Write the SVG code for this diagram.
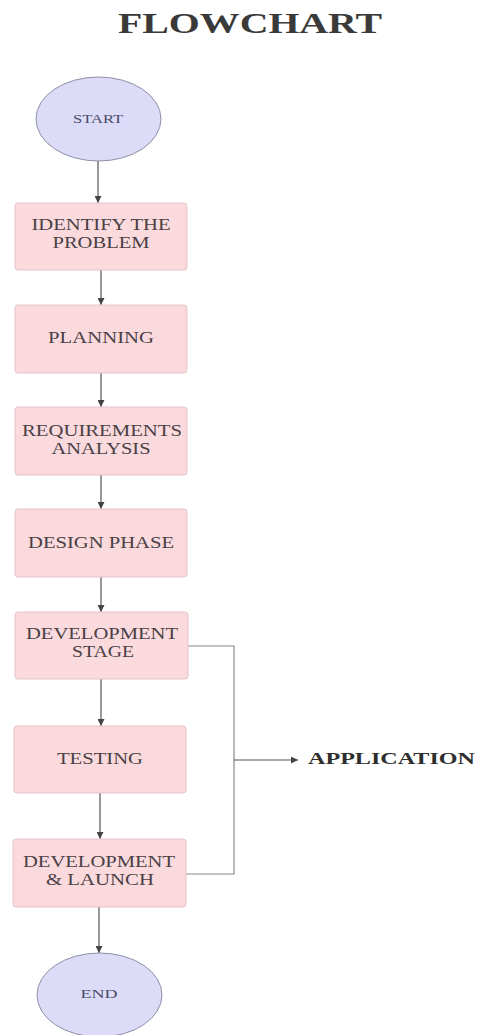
<svg xmlns="http://www.w3.org/2000/svg" width="478" height="1035" viewBox="0 0 478 1035">
<style>
.box{fill:#fadadd;stroke:#e6c3c8;stroke-width:1}
.oval{fill:#dcdcf8;stroke:#8e8ea6;stroke-width:1}
.t{font-family:"Liberation Serif","Times New Roman",serif;font-size:16px;fill:#4a4045;text-anchor:middle}
.ot{font-family:"Liberation Serif","Times New Roman",serif;font-size:13px;fill:#4a4a66;text-anchor:middle}
.title{font-family:"Liberation Serif","Times New Roman",serif;font-size:30px;font-weight:bold;fill:#3a3a3a;text-anchor:middle}
.app{font-family:"Liberation Serif","Times New Roman",serif;font-size:17px;font-weight:bold;fill:#2e2e2e}
.c{stroke:#555;stroke-width:1.2;fill:none}
.c2{stroke:#8a8a8a;stroke-width:1.2;fill:none}
</style>
<defs>
<marker id="ah" viewBox="0 0 10 10" refX="10" refY="5" markerWidth="8" markerHeight="7" markerUnits="userSpaceOnUse" orient="auto">
<path d="M0,0 L10,5 L0,10 z" fill="#444"/>
</marker>
</defs>
<rect width="478" height="1035" fill="#ffffff"/>
<text class="title" x="250" y="33" textLength="264" lengthAdjust="spacingAndGlyphs">FLOWCHART</text>

<g id="connectors">
<line class="c" x1="98" y1="161" x2="98" y2="203" marker-end="url(#ah)"/>
<line class="c" x1="101" y1="270" x2="101" y2="305" marker-end="url(#ah)"/>
<line class="c" x1="101" y1="373" x2="101" y2="407" marker-end="url(#ah)"/>
<line class="c" x1="101" y1="475" x2="101" y2="509" marker-end="url(#ah)"/>
<line class="c" x1="101" y1="577" x2="101" y2="612" marker-end="url(#ah)"/>
<line class="c" x1="101" y1="679" x2="101" y2="726" marker-end="url(#ah)"/>
<line class="c" x1="100" y1="793" x2="100" y2="839" marker-end="url(#ah)"/>
<line class="c" x1="99" y1="907" x2="99" y2="953" marker-end="url(#ah)"/>
<polyline class="c2" points="187,646 234,646 234,874 186,874"/>
<line class="c" x1="234" y1="760" x2="298" y2="760" marker-end="url(#ah)"/>
</g>

<g id="start">
<ellipse class="oval" cx="98.5" cy="119" rx="62.5" ry="42"/>
<text class="ot" x="98" y="123" textLength="50" lengthAdjust="spacingAndGlyphs">START</text>
</g>
<g id="identify">
<rect class="box" x="15" y="203" width="172" height="67" rx="3"/>
<text class="t" x="101" y="230" textLength="139" lengthAdjust="spacingAndGlyphs">IDENTIFY THE</text>
<text class="t" x="101" y="248" textLength="97" lengthAdjust="spacingAndGlyphs">PROBLEM</text>
</g>
<g id="planning">
<rect class="box" x="15" y="305" width="172" height="68" rx="3"/>
<text class="t" x="101" y="343" textLength="106" lengthAdjust="spacingAndGlyphs">PLANNING</text>
</g>
<g id="requirements">
<rect class="box" x="15" y="407" width="172" height="68" rx="3"/>
<text class="t" x="102" y="436" textLength="160" lengthAdjust="spacingAndGlyphs">REQUIREMENTS</text>
<text class="t" x="101" y="454" textLength="99" lengthAdjust="spacingAndGlyphs">ANALYSIS</text>
</g>
<g id="design">
<rect class="box" x="15" y="509" width="172" height="68" rx="3"/>
<text class="t" x="101" y="548" textLength="146" lengthAdjust="spacingAndGlyphs">DESIGN PHASE</text>
</g>
<g id="devstage">
<rect class="box" x="15" y="612" width="173" height="67" rx="3"/>
<text class="t" x="102" y="639" textLength="152" lengthAdjust="spacingAndGlyphs">DEVELOPMENT</text>
<text class="t" x="103" y="657" textLength="62" lengthAdjust="spacingAndGlyphs">STAGE</text>
</g>
<g id="testing">
<rect class="box" x="14" y="726" width="172" height="67" rx="3"/>
<text class="t" x="100" y="764" textLength="86" lengthAdjust="spacingAndGlyphs">TESTING</text>
</g>
<g id="launch">
<rect class="box" x="13" y="839" width="173" height="68" rx="3"/>
<text class="t" x="99" y="867" textLength="152" lengthAdjust="spacingAndGlyphs">DEVELOPMENT</text>
<text class="t" x="100" y="885" textLength="108" lengthAdjust="spacingAndGlyphs">&amp; LAUNCH</text>
</g>
<g id="end">
<ellipse class="oval" cx="99.5" cy="995" rx="62.5" ry="42"/>
<text class="ot" x="99" y="998" textLength="37" lengthAdjust="spacingAndGlyphs">END</text>
</g>
<g id="application">
<text class="app" x="308" y="764" textLength="167" lengthAdjust="spacingAndGlyphs">APPLICATION</text>
</g>
</svg>
